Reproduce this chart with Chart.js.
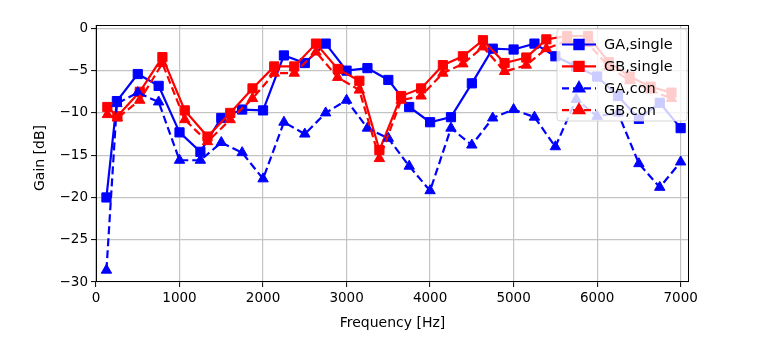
<!DOCTYPE html>
<html>
<head>
<meta charset="utf-8">
<title>Gain vs Frequency</title>
<script src="https://cdn.jsdelivr.net/npm/chart.js@4/dist/chart.umd.min.js"></script>
<style>
  html, body { margin: 0; padding: 0; background: #ffffff; }
  #wrap { width: 765px; height: 342px; }
</style>
</head>
<body>
<div id="wrap"><canvas id="c" width="765" height="342"></canvas></div>
<script>
// Measurement frequencies (Hz)
const freqA = [125, 250, 500, 750, 1000, 1250, 1500, 1750, 2000, 2250, 2500, 2750, 3000, 3250, 3500,
               3750, 4000, 4250, 4500, 4750, 5000, 5250, 5500, 5750, 6000, 6250, 6500, 6750, 7000];
const freqB = [136, 256, 524, 795, 1063, 1335, 1607, 1874, 2134, 2374, 2634, 2894, 3153, 3393,
               3653, 3893, 4153, 4393, 4633, 4892, 5152, 5392, 5640, 5891, 6140, 6390, 6640, 6890];

// Gains (dB)
const gaSingle = [-20.0, -8.6, -5.4, -6.8, -12.3, -14.6, -10.6, -9.6, -9.7, -3.2, -4.1, -1.8, -5.0, -4.7, -6.1,
                  -9.3, -11.1, -10.5, -6.5, -2.4, -2.5, -1.8, -3.3, -4.5, -5.7, -8.0, -10.7, -8.8, -11.8];
const gbSingle = [-9.3, -10.4, -7.5, -3.4, -9.7, -12.8, -10.0, -7.1, -4.5, -4.5, -1.8, -4.8, -6.2, -14.4,
                  -8.0, -7.1, -4.35, -3.3, -1.4, -4.1, -3.45, -1.3, -0.9, -0.9, -4.0, -5.7, -6.9, -7.6];
const gaCon = [-28.6, -8.9, -7.6, -8.7, -15.6, -15.6, -13.5, -14.7, -17.8, -11.1, -12.5, -10.0, -8.5, -11.8, -13.0,
               -16.3, -19.2, -11.8, -13.8, -10.6, -9.6, -10.5, -14.0, -8.4, -10.4, -10.0, -16.0, -18.8, -15.8];
const gbCon = [-10.2, -10.6, -8.5, -4.15, -10.8, -13.4, -10.8, -8.3, -5.3, -5.3, -2.8, -5.8, -7.3, -15.4,
               -8.5, -8.0, -5.3, -4.2, -2.2, -5.1, -4.35, -2.4, -1.5, -1.8, -4.5, -6.2, -7.3, -8.3];

// Axis ticks
const xTicks = [0, 1000, 2000, 3000, 4000, 5000, 6000, 7000];
const yTicks = [0, -5, -10, -15, -20, -25, -30];

const seriesNames = ['GA,single', 'GB,single', 'GA,con', 'GB,con'];

const BLUE = '#0000ff';
const RED = '#ff0000';
const FONT = "'DejaVu Sans', sans-serif";

function pts(xs, ys) { return xs.map((x, i) => ({ x: x, y: ys[i] })); }

const styles = [
  { color: BLUE, marker: 'rect', dash: [] },
  { color: RED, marker: 'rect', dash: [] },
  { color: BLUE, marker: 'triangle', dash: [8, 4] },
  { color: RED, marker: 'triangle', dash: [8, 4] }
];
const seriesData = [pts(freqA, gaSingle), pts(freqB, gbSingle), pts(freqA, gaCon), pts(freqB, gbCon)];

const datasets = seriesNames.map((name, i) => ({
  label: name,
  data: seriesData[i],
  borderColor: styles[i].color,
  backgroundColor: styles[i].color,
  borderWidth: 2.2,
  borderDash: styles[i].dash,
  pointStyle: styles[i].marker,
  pointRadius: styles[i].marker === 'rect' ? 6.5 : 6,
  pointBorderWidth: 1,
  pointBorderColor: styles[i].color,
  pointBackgroundColor: styles[i].color,
  tension: 0,
  fill: false,
  order: 3 - i
}));

// Frame, legend box and axis titles drawn on top of the data
const overlay = {
  id: 'overlay',
  afterDatasetsDraw(chart) {
    const ctx = chart.ctx;
    const a = chart.chartArea;
    ctx.save();
    ctx.strokeStyle = '#000000';
    ctx.lineWidth = 1;
    ctx.setLineDash([]);
    ctx.strokeRect(a.left + 0.5, a.top + 0.5, a.right - a.left - 1, a.bottom - a.top - 1);

    // legend
    const lx = 557, ly = 29, lw = 130, lh = 92, r = 3;
    ctx.beginPath();
    ctx.moveTo(lx + r, ly);
    ctx.lineTo(lx + lw - r, ly);
    ctx.quadraticCurveTo(lx + lw, ly, lx + lw, ly + r);
    ctx.lineTo(lx + lw, ly + lh - r);
    ctx.quadraticCurveTo(lx + lw, ly + lh, lx + lw - r, ly + lh);
    ctx.lineTo(lx + r, ly + lh);
    ctx.quadraticCurveTo(lx, ly + lh, lx, ly + lh - r);
    ctx.lineTo(lx, ly + r);
    ctx.quadraticCurveTo(lx, ly, lx + r, ly);
    ctx.closePath();
    ctx.fillStyle = 'rgba(255,255,255,0.8)';
    ctx.fill();
    ctx.strokeStyle = 'rgba(204,204,204,0.8)';
    ctx.lineWidth = 1;
    ctx.stroke();

    seriesNames.forEach((name, i) => {
      const y = 44.5 + i * 21.9;
      const st = styles[i];
      ctx.strokeStyle = st.color;
      ctx.lineWidth = 2.2;
      ctx.setLineDash(st.dash.length ? [7, 4] : []);
      ctx.beginPath();
      ctx.moveTo(562, y);
      ctx.lineTo(596, y);
      ctx.stroke();
      ctx.setLineDash([]);
      Chart.helpers.drawPoint(ctx, {
        pointStyle: st.marker,
        radius: st.marker === 'rect' ? 6.5 : 6,
        rotation: 0,
        borderWidth: 1
      }, 579, y);
      ctx.fillStyle = st.color;
      ctx.fill();
      ctx.fillStyle = '#000000';
      ctx.font = '14.5px ' + FONT;
      ctx.textAlign = 'left';
      ctx.textBaseline = 'middle';
      ctx.fillText(name, 604, y + 1);
    });

    // axis titles
    ctx.fillStyle = '#000000';
    ctx.font = '14px ' + FONT;
    ctx.textAlign = 'center';
    ctx.textBaseline = 'middle';
    ctx.fillText('Frequency [Hz]', (a.left + a.right) / 2, 323);
    ctx.translate(40, 158);
    ctx.rotate(-Math.PI / 2);
    ctx.fillText('Gain [dB]', 0, 0);
    ctx.restore();
  }
};

new Chart(document.getElementById('c'), {
  type: 'line',
  data: { datasets: datasets },
  options: {
    responsive: false,
    animation: false,
    devicePixelRatio: 1,
    layout: { padding: { left: 0, right: 76, top: 25, bottom: 0 } },
    plugins: { legend: { display: false }, tooltip: { enabled: false } },
    scales: {
      x: {
        type: 'linear',
        min: 0,
        max: 7100,
        afterBuildTicks(axis) { axis.ticks = xTicks.map(v => ({ value: v })); },
        afterFit(axis) { axis.height = 60; },
        grid: { color: '#c4c4c4', lineWidth: 1.2, tickColor: '#000000', tickLength: 5, tickWidth: 1 },
        border: { display: false },
        ticks: { color: '#000000', font: { family: FONT, size: 13.5 }, padding: 3, maxRotation: 0,
                 callback: v => String(v) }
      },
      y: {
        type: 'linear',
        min: -30,
        max: 0.4,
        afterBuildTicks(axis) { axis.ticks = yTicks.map(v => ({ value: v })); },
        afterFit(axis) { axis.width = 96; },
        grid: { color: '#c4c4c4', lineWidth: 1.2, tickColor: '#000000', tickLength: 5, tickWidth: 1 },
        border: { display: false },
        ticks: { color: '#000000', font: { family: FONT, size: 13.5 }, padding: 3,
                 callback: v => (v < 0 ? '\u2212' + Math.abs(v) : String(v)) }
      }
    }
  },
  plugins: [overlay]
});
</script>
</body>
</html>
